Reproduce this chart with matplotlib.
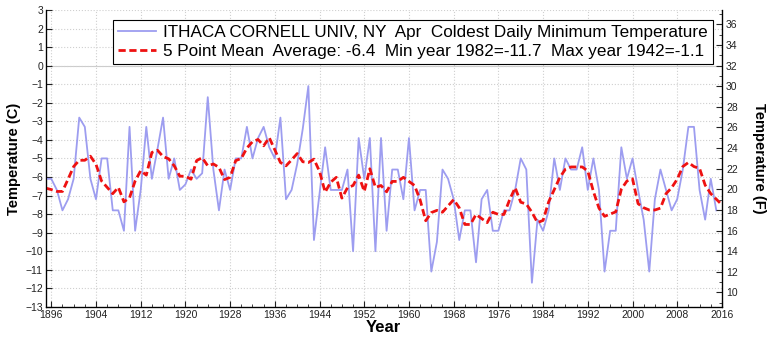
import numpy as np
import matplotlib
matplotlib.use('Agg')
import matplotlib.pyplot as plt

plt.rcParams['font.family'] = ['Liberation Sans', 'DejaVu Sans']

# April coldest daily minimum, Ithaca Cornell Univ (deg C)
years = list(range(1895, 2016))
tmin = [-6.1, -6.1, -6.7, -7.8, -7.2, -6.1, -2.8, -3.3, -6.1, -7.2,
        -5.0, -5.0, -7.8, -7.8, -8.9, -3.3, -8.9, -6.7, -3.3, -6.1,
        -4.5, -2.8, -6.1, -5.0, -6.7, -6.4, -5.6, -6.1, -5.8, -1.7,
        -5.6, -7.8, -5.6, -6.7, -5.0, -5.0, -3.3, -5.0, -3.9, -3.3,
        -4.4, -5.0, -2.8, -7.2, -6.7, -5.3, -3.4, -1.1, -9.4, -6.9,
        -4.4, -6.7, -6.7, -6.7, -5.6, -10.0, -3.9, -6.1, -3.9, -10.0,
        -3.9, -8.9, -5.6, -5.6, -7.2, -3.9, -7.8, -6.7, -6.7, -11.1,
        -9.5, -5.6, -6.1, -7.2, -9.4, -7.8, -7.8, -10.6, -7.2, -6.7,
        -8.9, -8.9, -7.8, -7.8, -6.7, -5.0, -5.6, -11.7, -8.3, -8.9,
        -7.8, -5.0, -6.7, -5.0, -5.6, -5.6, -4.4, -6.7, -5.0, -6.7,
        -11.1, -8.9, -8.9, -4.4, -6.1, -5.0, -6.7, -8.3, -11.1, -7.2,
        -5.6, -6.7, -7.8, -7.2, -5.6, -3.3, -3.3, -6.7, -8.3, -6.1,
        -7.8]

# 5 point mean line
mean_years = list(range(1895, 2017))
tmean5 = [-6.60, -6.68, -6.78, -6.78, -6.12, -5.44, -5.10, -5.10, -4.88, -5.32,
          -6.22, -6.56, -6.90, -6.56, -7.34, -7.12, -6.22, -5.66, -5.90, -4.68,
          -4.56, -4.90, -5.02, -5.40, -5.96, -5.96, -6.12, -5.12, -4.96, -5.40,
          -5.30, -5.48, -6.14, -6.02, -5.12, -5.00, -4.44, -4.10, -3.98, -4.32,
          -3.88, -4.54, -5.22, -5.40, -5.08, -4.74, -5.18, -5.22, -5.04, -5.70,
          -6.82, -6.28, -6.02, -7.14, -6.58, -6.46, -5.90, -6.78, -5.56, -6.56,
          -6.46, -6.80, -6.24, -6.24, -6.02, -6.24, -6.46, -7.24, -8.36, -7.92,
          -7.80, -7.90, -7.56, -7.22, -7.66, -8.56, -8.56, -8.02, -8.24, -8.46,
          -7.90, -8.02, -8.02, -7.24, -6.58, -7.36, -7.46, -7.90, -8.46, -8.34,
          -7.34, -6.68, -6.02, -5.58, -5.46, -5.46, -5.46, -5.68, -6.78, -7.68,
          -8.12, -8.00, -7.88, -6.66, -6.22, -6.10, -7.44, -7.66, -7.78, -7.78,
          -7.68, -6.90, -6.58, -6.12, -5.44, -5.22, -5.44, -5.54, -6.44, -6.90,
          -7.20, -7.50]

fig = plt.figure(figsize=(7.68, 3.44), dpi=100)
ax = fig.add_axes([0.0595, 0.108, 0.8805, 0.863])

ax.axhline(0, color='#cccccc', lw=0.8, zorder=1)
line0, = ax.plot(years, tmin, color='#9d9df0', lw=1.3, zorder=3)
line1, = ax.plot(mean_years, tmean5, color='#ee1111', lw=2.0, ls=(0, (2.6, 1.3)), zorder=4)

ax.set_xlim(1895, 2016)
ax.set_ylim(-13, 3)
ax.set_xticks(range(1896, 2017, 8))
ax.set_xticks(range(1896, 2017, 2), minor=True)
ax.set_yticks(range(-13, 4))
ax.grid(True, which='major', color='#cfcfcf', ls=':', lw=0.8)
ax.tick_params(which='both', direction='in', labelsize=7.5, pad=2, colors='#222222')
ax.tick_params(which='major', length=4)
ax.tick_params(which='minor', length=2)
ax.spines['top'].set_visible(False)
for s in ['left', 'bottom', 'right']:
    ax.spines[s].set_linewidth(0.9)

# Fahrenheit scale on the right
ax2 = ax.twinx()
ax2.set_ylim(-13 * 9 / 5 + 32, 3 * 9 / 5 + 32)
ax2.set_yticks(range(10, 37, 2))
ax2.set_yticks(range(9, 38), minor=True)
ax2.tick_params(which='both', direction='in', labelsize=7.5, pad=3, colors='#222222')
ax2.tick_params(which='major', length=4)
ax2.tick_params(which='minor', length=2)
ax2.spines['top'].set_visible(False)

ax.set_xlabel('Year', fontsize=12, fontweight='bold', labelpad=0)
ax.set_ylabel('Temperature (C)', fontsize=10.5, fontweight='bold', labelpad=3)
ax2.set_ylabel('Temperature (F)', fontsize=10.5, fontweight='bold', rotation=270, labelpad=20)

leg = ax.legend([line0, line1],
                ['ITHACA CORNELL UNIV, NY  Apr  Coldest Daily Minimum Temperature',
                 '5 Point Mean  Average: -6.4  Min year 1982=-11.7  Max year 1942=-1.1'],
                loc='upper right', bbox_to_anchor=(0.987, 0.966), borderaxespad=0,
                fontsize=12.3, handlelength=2.2, handletextpad=0.45, labelspacing=0.22,
                borderpad=0.3, fancybox=False, framealpha=1)
leg.get_frame().set_edgecolor('black')
leg.get_frame().set_linewidth(0.8)

fig.savefig('out.png', dpi=100)
